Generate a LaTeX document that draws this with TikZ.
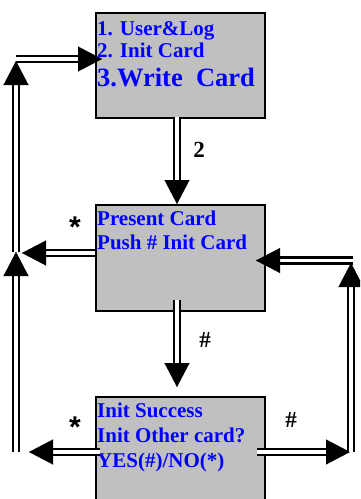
\documentclass[tikz,border=0pt]{standalone}
\usepackage{fontspec}
\setmainfont{Liberation Serif}
\setsansfont{Liberation Sans}
\usetikzlibrary{arrows.meta}
\definecolor{boxgray}{HTML}{C0C0C0}
\definecolor{txtblue}{HTML}{0000FF}
\tikzset{
  box/.style={draw=black, fill=boxgray, line width=1.5pt, anchor=north west, inner sep=0pt, minimum width=169pt},
  boxtext/.style={anchor=base west, inner sep=0pt, text=txtblue, font=\bfseries\fontsize{21}{21}\selectfont},
  bigtext/.style={boxtext, font=\bfseries\fontsize{26.5}{26.5}\selectfont},
  lbl/.style={inner sep=0pt, font=\bfseries\fontsize{23}{23}\selectfont},
  starlbl/.style={inner sep=0pt, font=\sffamily\bfseries\fontsize{30}{30}\selectfont},
  shaft/.style={draw=black, double=white, line width=2.3pt, double distance=3.6pt, shorten >=22pt},
  tipline/.style={draw=white, line width=0.2pt, -{Triangle[length=24pt,width=25pt,color=black]}}
}
\newcommand\dblarr[2]{\draw[shaft] (#1) -- (#2); \draw[tipline] (#1) -- (#2);}
\begin{document}
\begin{tikzpicture}[x=1pt,y=-1pt]
\useasboundingbox (0,0) rectangle (360,499);
\clip (0,0) rectangle (360,499);
% boxes
\node[box, minimum height=105pt] (b1) at (95,12) {};
\node[box, minimum height=106pt] (b2) at (95,204) {};
\node[box, minimum height=120pt] (b3) at (95,396) {};
% texts
\node[boxtext] (t1) at (97,35) {1. User\&Log};
\node[boxtext] (t2) at (97,57) {2. Init Card};
\node[bigtext] (t3) at (97,86) {3.Write\hspace{0.5em}Card};
\node[boxtext] (t4) at (97,225) {Present Card};
\node[boxtext] (t5) at (97,249) {Push \# Init Card};
\node[boxtext] (t6) at (97,417) {Init Success};
\node[boxtext] (t7) at (97,442) {Init Other card?};
\node[boxtext] (t8) at (97,467) {YES(\#)/NO(*)};
% coordinates
\coordinate (a1s) at (177,117);
\coordinate (a1e) at (177,204);
\coordinate (a2s) at (95,253);
\coordinate (a2e) at (22,253);
\coordinate (a3s) at (16,252);
\coordinate (a3e) at (16,61);
\coordinate (a4s) at (16,59);
\coordinate (a4e) at (102,59);
\coordinate (a5s) at (177,300);
\coordinate (a5e) at (177,387);
\coordinate (a6s) at (100,452);
\coordinate (a6e) at (29,452);
\coordinate (a7s) at (16,452);
\coordinate (a7e) at (16,252);
\coordinate (a8s) at (257,452);
\coordinate (a8e) at (350,452);
\coordinate (a9s) at (351,452);
\coordinate (a9e) at (351,263);
\coordinate (a10s) at (353,260.5);
\coordinate (a10e) at (256,260.5);
% connectors
\dblarr{a1s}{a1e}
\dblarr{a2s}{a2e}
\dblarr{a3s}{a3e}
\dblarr{a4s}{a4e}
\dblarr{a5s}{a5e}
\dblarr{a6s}{a6e}
\dblarr{a7s}{a7e}
\dblarr{a8s}{a8e}
\dblarr{a9s}{a9e}
\dblarr{a10s}{a10e}
% labels
\node[lbl] (l2) at (199,150) {2};
\node[starlbl] (ls1) at (75,227) {*};
\node[lbl] (lh1) at (205,340) {\#};
\node[starlbl] (ls2) at (75,427) {*};
\node[lbl] (lh2) at (291,420) {\#};
\end{tikzpicture}
\end{document}
